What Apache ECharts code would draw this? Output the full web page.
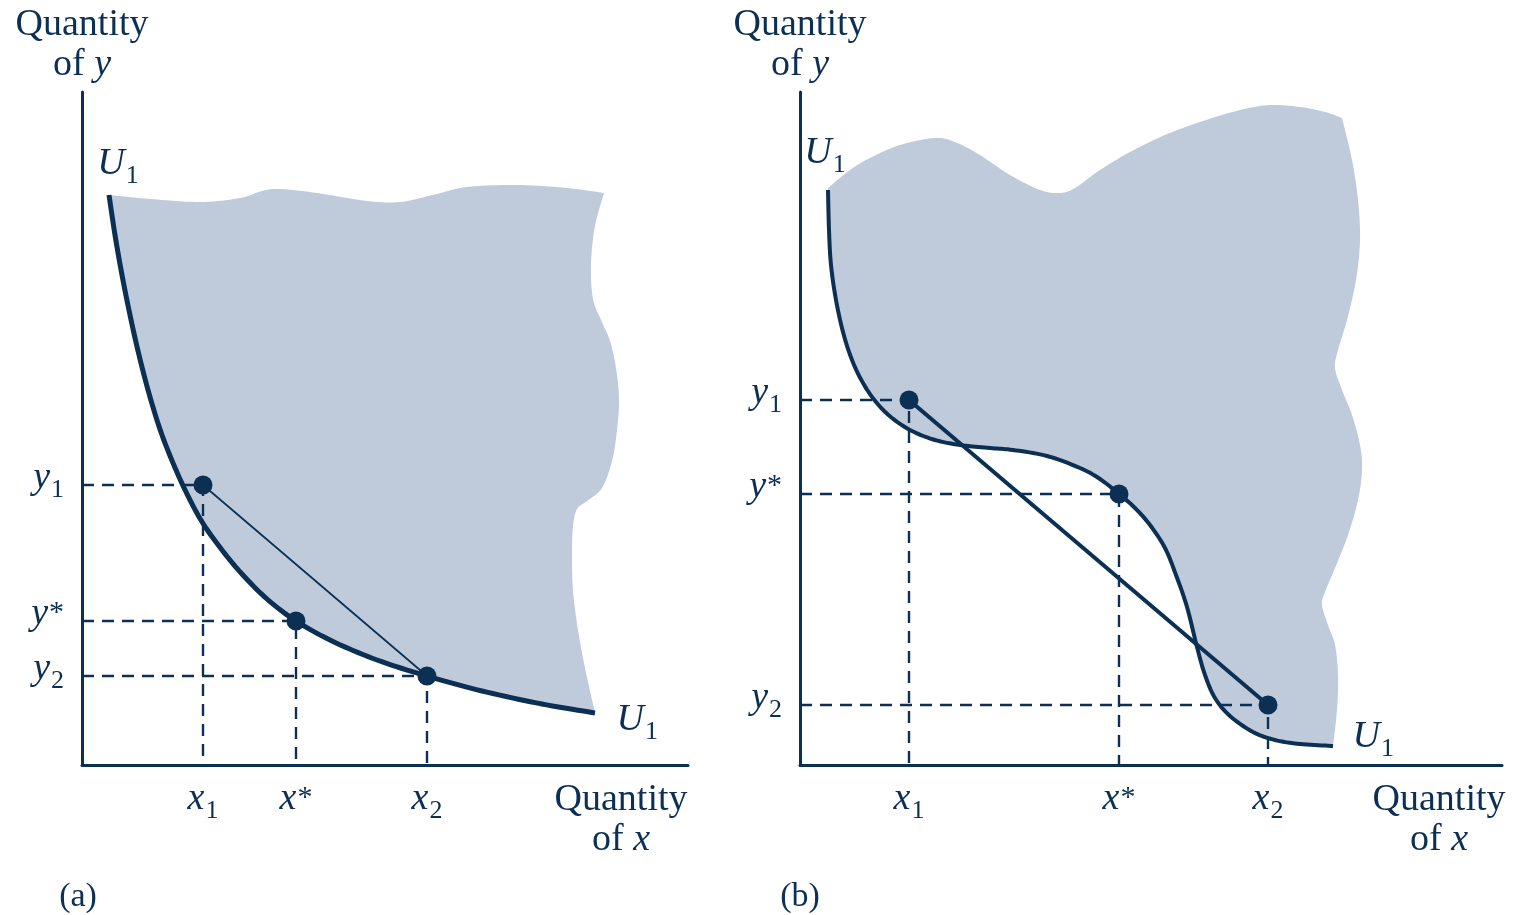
<!DOCTYPE html>
<html><head><meta charset="utf-8">
<script src="https://cdn.jsdelivr.net/npm/echarts@6/dist/echarts.min.js"></script>
<style>html,body{margin:0;padding:0;background:#fff}#c{width:1518px;height:915px}</style>
</head><body><div id="c"></div>
<script>
// ---------- Panel (a) data (axis units, origin at the axes corner) ----------
const aPointX = [121, 214, 345];        // x1, x*, x2
const aPointY = [280, 144, 89];         // y1, y*, y2
const aCurve = [[27,570],[33,530],[40,490],[48,450],[57,410],[68,368],[80,330],[94,295],[108,265],[122,240],[140,215],[160,191],[185,166],[214,144],[250,124],[295,105],[345,89],[400,74],[460,61],[513,52]];
const aShadeRight = [[522,572],[513,539],[509,501],[511,466],[520,443],[528,424],[534,397],[537,366],[535,335],[530,304],[520,277],[505,264],[495,256],[491,239],[490,212],[491,174],[496,135],[503,97],[513,52]];
const aShadeTop = [[27,570],[68,566],[118,563],[158,567],[180,574],[198,576],[235,572],[285,564],[318,563],[351,570],[385,578],[435,580],[485,577],[522,572]];
const aChord = [0, 2];                   // chord joins point 1 and point 3

// ---------- Panel (b) data ----------
const bPointX = [109, 319, 468];
const bPointY = [365, 271, 60];
const bCurve = [[28,575],[29,535],[31,500],[36,465],[43,433],[52,405],[63,382],[76,363],[92,347],[112,334],[135,325],[160,320],[190,317],[213,315],[247,309],[280,297],[300,286],[319,271],[335,257],[350,240],[365,217],[376,190],[387,158],[397,118],[405,90],[415,67],[430,49],[453,33],[475,25],[500,21],[533,19]];
const bShadeRight = [[542,647],[552,605],[558,565],[560,525],[556,485],[547,445],[538,415],[535,397],[542,375],[552,350],[560,320],[562,295],[558,265],[548,230],[535,197],[525,173],[522,160],[528,140],[535,120],[538,90],[537,55],[533,19]];
const bShadeTop = [[28,577],[50,595],[70,607],[100,620],[135,627],[155,623],[180,610],[210,590],[240,575],[260,572],[275,577],[300,595],[330,613],[365,630],[400,643],[440,655],[470,660],[500,658],[525,653],[542,647]];
const bChord = [0, 2];

// ---------- Text ----------
const tickSuffix = ['1', '*', '2'];
const xAxisName = ['Quantity', 'of ', 'x'];
const yAxisName = ['Quantity', 'of ', 'y'];
const curveName = ['U', '1'];
const panelTags = ['(a)', '(b)'];

// axis extents (same units)
const aXMax = 606, aYMax = 673;
const bXMax = 702, bYMax = 673;

const C = '#0c2f54';
const FILL = '#bfcadb';
const F = '"Liberation Serif", "DejaVu Serif", serif';

function catmull(pts, seg) {
  const out = [];
  const n = pts.length;
  for (let i = 0; i < n - 1; i++) {
    const p0 = pts[Math.max(i - 1, 0)], p1 = pts[i], p2 = pts[i + 1], p3 = pts[Math.min(i + 2, n - 1)];
    for (let k = 0; k < seg; k++) {
      const t = k / seg, t2 = t * t, t3 = t2 * t;
      const f = j => 0.5 * ((2 * p1[j]) + (-p0[j] + p2[j]) * t + (2 * p0[j] - 5 * p1[j] + 4 * p2[j] - p3[j]) * t2 + (-p0[j] + 3 * p1[j] - 3 * p2[j] + p3[j]) * t3);
      out.push([f(0), f(1)]);
    }
  }
  out.push(pts[n - 1].slice());
  return out;
}

const richVar = {
  v: {fontFamily: F, fontStyle: 'italic', fontSize: 38, color: C, lineHeight: 44},
  s: {fontFamily: F, fontSize: 26, color: C, lineHeight: 44, padding: [24, 0, 0, 1]},
  p: {fontFamily: F, fontSize: 30, color: C, lineHeight: 44, padding: [0, 0, 2, 1]}
};
const richName = {
  n: {fontFamily: F, fontSize: 38, color: C, lineHeight: 40},
  i: {fontFamily: F, fontSize: 38, fontStyle: 'italic', color: C, lineHeight: 40}
};
function varLabel(letter, suf) {
  return '{v|' + letter + '}' + (suf === '*' ? '{p|*}' : '{s|' + suf + '}');
}
function nearestIdx(arr, v) {
  let bi = 0;
  arr.forEach((a, i) => { if (Math.abs(a - v) < Math.abs(arr[bi] - v)) bi = i; });
  return bi;
}
function nameText(parts) {
  return '{n|' + parts[0] + '}\n{n|' + parts[1] + '}{i|' + parts[2] + '}';
}

function axes(gi, xMax, yMax, px, py, xNameGap) {
  const axisLine = {show: true, onZero: false, lineStyle: {color: C, width: 3}};
  return {
    x: {
      type: 'value', gridIndex: gi, min: 0, max: xMax,
      axisLine, axisTick: {show: false}, splitLine: {show: false},
      name: nameText(xAxisName), nameLocation: 'end', nameGap: xNameGap, nameMoveOverlap: false,
      nameTextStyle: {align: 'center', verticalAlign: 'top', padding: [15, 0, 0, 0], rich: richName},
      axisLabel: {
        customValues: px, margin: 12,
        formatter: v => varLabel('x', tickSuffix[nearestIdx(px, v)]),
        rich: richVar
      }
    },
    y: {
      type: 'value', gridIndex: gi, min: 0, max: yMax,
      axisLine, axisTick: {show: false}, splitLine: {show: false},
      name: nameText(yAxisName), nameLocation: 'end', nameGap: 7, nameMoveOverlap: false,
      nameTextStyle: {align: 'center', verticalAlign: 'bottom', rich: richName},
      axisLabel: {
        customValues: py, margin: 18, padding: [0, 0, 14, 0],
        formatter: v => varLabel('y', tickSuffix[nearestIdx(py, v)]),
        rich: richVar
      }
    }
  };
}

function panelSeries(gi, curve, right, top, px, py, chord, chordWidth, curveWidth, topLbl, endLbl) {
  const shade = {
    type: 'custom', xAxisIndex: gi, yAxisIndex: gi, z: 1, silent: true, data: [[0, 0]],
    renderItem: (params, api) => {
      const toPx = arr => arr.map(p => api.coord(p));
      const pts = catmull(toPx(curve), 10)
        .concat(catmull(toPx(right.slice().reverse()), 10))
        .concat(catmull(toPx(top.slice().reverse()), 10));
      return {type: 'polygon', shape: {points: pts}, style: {fill: FILL, stroke: null}};
    }
  };
  const curveSer = {
    type: 'custom', xAxisIndex: gi, yAxisIndex: gi, z: 4, silent: true, data: [[0, 0]],
    renderItem: (params, api) => {
      const pts = catmull(curve.map(p => api.coord(p)), 10);
      return {type: 'polyline', shape: {points: pts}, style: {stroke: C, lineWidth: curveWidth, fill: null, lineCap: 'butt', lineJoin: 'round'}};
    }
  };
  const guides = px.map((x, i) => ({
    type: 'line', xAxisIndex: gi, yAxisIndex: gi, z: 2, silent: true, showSymbol: false, symbol: 'none',
    data: [[0, py[i]], [x, py[i]], [x, 0]],
    lineStyle: {color: C, width: 2.4, type: [12, 8]}
  }));
  const chordSer = {
    type: 'line', xAxisIndex: gi, yAxisIndex: gi, z: 3, silent: true, showSymbol: false, symbol: 'none',
    data: chord.map(i => [px[i], py[i]]),
    lineStyle: {color: C, width: chordWidth}
  };
  const dots = {
    type: 'scatter', xAxisIndex: gi, yAxisIndex: gi, z: 5, silent: true,
    data: px.map((x, i) => [x, py[i]]), symbolSize: 19, itemStyle: {color: C, opacity: 1}
  };
  const lbl = {show: true, opacity: 1, formatter: '{v|' + curveName[0] + '}{s|' + curveName[1] + '}', rich: richVar};
  const labels = {
    type: 'scatter', xAxisIndex: gi, yAxisIndex: gi, z: 6, silent: true, symbolSize: 1,
    itemStyle: {color: 'rgba(0,0,0,0)', opacity: 1},
    data: [
      {value: curve[0], label: Object.assign({}, lbl, topLbl)},
      {value: curve[curve.length - 1], label: Object.assign({}, lbl, endLbl)}
    ]
  };
  return [shade].concat(guides, [chordSer, curveSer, dots, labels]);
}

const axA = axes(0, aXMax, aYMax, aPointX, aPointY, -67);
const axB = axes(1, bXMax, bYMax, bPointX, bPointY, -63);

const option = {
  animation: false,
  backgroundColor: '#ffffff',
  grid: [
    {left: 82, top: 92, width: 606, height: 673},
    {left: 800, top: 92, width: 702, height: 673}
  ],
  xAxis: [axA.x, axB.x],
  yAxis: [axA.y, axB.y],
  graphic: [
    {type: 'text', x: 78, y: 897, style: {text: panelTags[0], font: '34px ' + F, fill: C, align: 'center', verticalAlign: 'middle'}},
    {type: 'text', x: 800, y: 897, style: {text: panelTags[1], font: '34px ' + F, fill: C, align: 'center', verticalAlign: 'middle'}}
  ],
  series: []
    .concat(panelSeries(0, aCurve, aShadeRight, aShadeTop, aPointX, aPointY, aChord, 1.7, 5, 
      {position: 'top', distance: 8, offset: [9, 0]},
      {position: 'right', distance: 21, offset: [0, 7]}))
    .concat(panelSeries(1, bCurve, bShadeRight, bShadeTop, bPointX, bPointY, bChord, 4, 4,
      {position: 'top', distance: 14, offset: [-3, 0]},
      {position: 'right', distance: 19, offset: [0, -9]}))
};

const chart = echarts.init(document.getElementById('c'), null, {renderer: 'canvas'});
chart.setOption(option);
</script>
</body></html>
